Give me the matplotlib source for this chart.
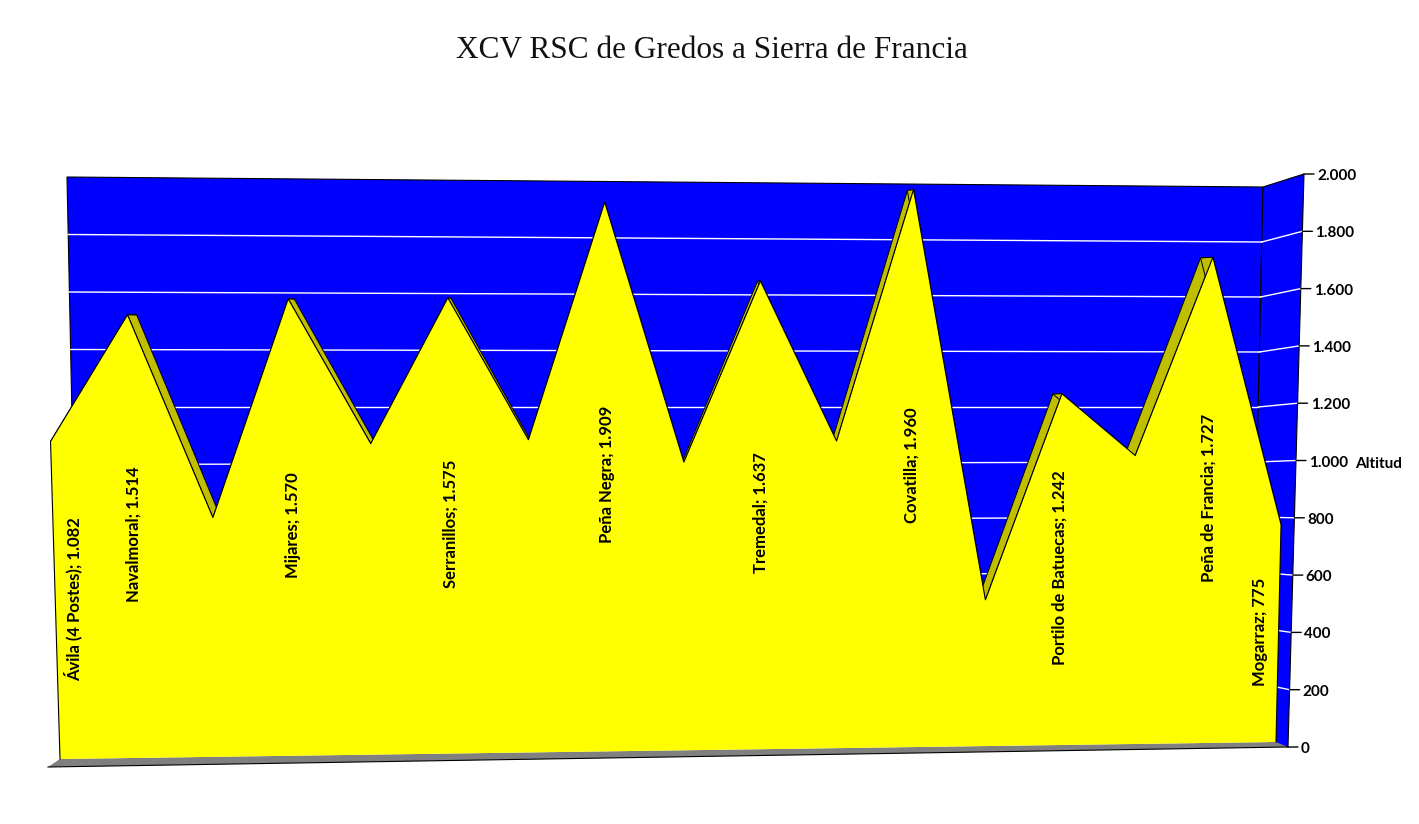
import numpy as np
import matplotlib
matplotlib.use("Agg")
import matplotlib.pyplot as plt
from matplotlib.patches import Polygon
from matplotlib.transforms import Transform, IdentityTransform

# ---- data ----
TITLE = "XCV RSC de Gredos a Sierra de Francia"
altitudes = [1082, 1514, 820, 1570, 1072, 1575, 1084, 1909, 1005, 1637, 1077, 1960, 516, 1242, 1023, 1727, 775]
label_names = ["Ávila (4 Postes); 1.082", "Navalmoral; 1.514", "", "Mijares; 1.570", "", "Serranillos; 1.575", "",
               "Peña Negra; 1.909", "", "Tremedal; 1.637", "", "Covatilla; 1.960", "",
               "Portilo de Batuecas; 1.242", "", "Peña de Francia; 1.727", "Mogarraz; 775"]
alt_ticks = [0, 200, 400, 600, 800, 1000, 1200, 1400, 1600, 1800, 2000]
tick_labels = ["0", "200", "400", "600", "800", "1.000", "1.200", "1.400", "1.600", "1.800", "2.000"]
axis_title = "Altitud"

# ---- projection of the chart planes onto the canvas ----
N = len(altitudes) - 1
AMAX = alt_ticks[-1]
FONT = ["Lato", "Roboto", "DejaVu Sans"]


class Plane(Transform):
    """Bilinear map (u, altitude) -> canvas pixel, from the four corners of a plane."""
    input_dims = output_dims = 2
    is_separable = False
    has_inverse = False

    def __init__(self, umax, corners, bulge=0.0):
        super().__init__()
        self.c = np.array(corners, float)   # (0,0), (umax,0), (0,AMAX), (umax,AMAX)
        self.umax = umax
        self.bulge = bulge

    def transform_non_affine(self, values):
        v = np.asarray(values, float)
        s = (v[:, 0] / self.umax)[:, None]
        t = (v[:, 1] / AMAX)[:, None]
        c = self.c
        xy = (1 - s) * (1 - t) * c[0] + s * (1 - t) * c[1] + (1 - s) * t * c[2] + s * t * c[3]
        xy[:, 0] += self.bulge * np.sin(np.pi * s[:, 0])
        return xy


fig = plt.figure(figsize=(14.19, 8.24), dpi=100, facecolor="white")
ax = fig.add_axes([0, 0, 1, 1])
ax.set_xlim(0, 1419)
ax.set_ylim(824, 0)
ax.axis("off")

front = Plane(N, [(60, 759), (1276, 742), (42.5, 172), (1289, 181)], bulge=17) + ax.transData
back = Plane(N, [(70, 757), (1263, 741), (53.5, 173), (1275, 182)], bulge=17) + ax.transData
wall = Plane(N, [(79, 752), (1251, 737), (67, 177), (1263, 187)]) + ax.transData
side = Plane(1, [(1251, 737), (1288, 747), (1263, 187), (1304, 174)]) + ax.transData
floor = Plane(1, [(48, 767), (1288, 747), (60, 759), (1276, 742)]) + ax.transData

EDGE = 0.8
BLUE, YELLOW, OLIVE, GREY = "#0000FF", "#FFFF00", "#BFBF00", "#808080"

# walls
ax.add_patch(Polygon([(0, 0), (N, 0), (N, AMAX), (0, AMAX)], transform=wall, fc=BLUE, ec="black", lw=EDGE, zorder=1))
ax.add_patch(Polygon([(0, 0), (1, 0), (1, AMAX), (0, AMAX)], transform=side, fc=BLUE, ec="black", lw=EDGE, zorder=1))
# floor: only its front edge is outlined
ax.add_patch(Polygon([(0, 0), (1, 0), (1, AMAX), (0, AMAX)], transform=floor, fc=GREY, ec="none", zorder=2))
ax.plot([0, 1], [0, 0], transform=floor, color="black", lw=EDGE, zorder=2.5)

# gridlines and ticks
for a, lab in zip(alt_ticks, tick_labels):
    if 0 < a < AMAX:
        ax.plot([0, N], [a, a], transform=wall, color="white", lw=1.0, zorder=1.5)
        ax.plot([0, 1], [a, a], transform=side, color="white", lw=1.0, zorder=1.5)
    ax.annotate("", xy=(1, a), xycoords=side, xytext=(10, 0), textcoords="offset pixels",
                arrowprops=dict(arrowstyle="-", color="black", lw=1.0, shrinkA=0, shrinkB=0), zorder=3)
    ax.annotate(lab, xy=(1, a), xycoords=side, xytext=(13, -2), textcoords="offset pixels",
                ha="left", va="center", fontsize=11, fontweight="bold",
                family=FONT, color="black", zorder=6)

ax.text(1355, 464, axis_title, ha="left", va="center", fontsize=11, fontweight="bold",
        family=FONT, color="black")

# extruded top faces of the area
idx = list(range(N + 1))
pf = front.transform(np.c_[idx, altitudes])
pb = back.transform(np.c_[idx, altitudes])
for k in range(N):
    ax.fill([pf[k, 0], pf[k + 1, 0], pb[k + 1, 0], pb[k, 0]],
            [pf[k, 1], pf[k + 1, 1], pb[k + 1, 1], pb[k, 1]],
            fc=OLIVE, ec="black", lw=0.7, zorder=4, transform=IdentityTransform())

# front face of the area: outlined except along the floor
outline = [(0, 0)] + list(zip(idx, altitudes)) + [(N, 0)]
ax.add_patch(Polygon(outline, transform=front, fc=YELLOW, ec="none", zorder=5))
ox, oy = zip(*outline)
ax.plot(ox, oy, transform=front, color="black", lw=EDGE, zorder=5.5)

# data labels, centred at half height; the end ones are pushed inside the plot
for i, (name, a) in enumerate(zip(label_names, altitudes)):
    if not name:
        continue
    dx = 18 if i == 0 else (-19 if i == N else 0)
    ax.annotate(name, xy=(i, a * 0.505), xycoords=front, xytext=(dx, 0), textcoords="offset pixels",
                rotation=90, ha="center", va="center", fontsize=12, fontweight="bold",
                family=FONT, color="black", zorder=7)

ax.text(712, 50, TITLE, ha="center", va="center", fontsize=22.5,
        family=["Liberation Serif", "DejaVu Serif"], color="#111111")

fig.savefig("out.png", dpi=100)
